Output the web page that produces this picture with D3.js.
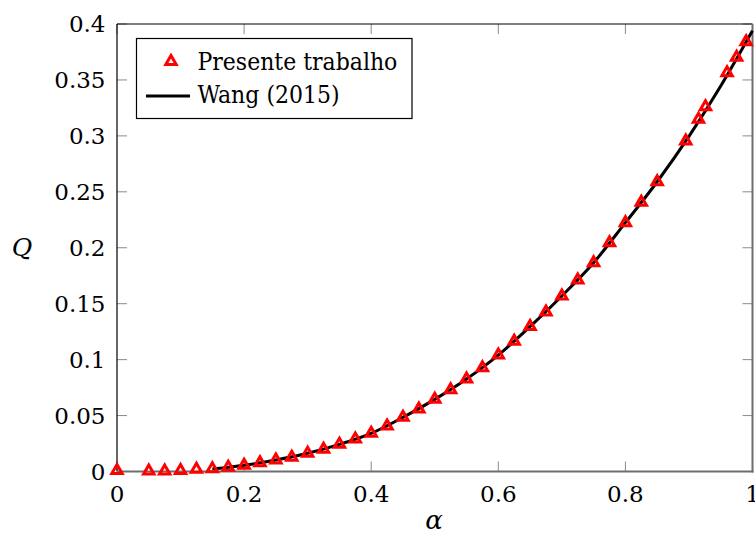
<!DOCTYPE html>
<html>
<head>
<meta charset="utf-8">
<script src="https://cdn.jsdelivr.net/npm/d3@7"></script>
<style>
  html, body { margin: 0; padding: 0; background: #fff; }
  svg { display: block; }
</style>
</head>
<body>
<svg id="chart" width="755" height="533"></svg>
<script>
// ---- Data ----
const presenteAlpha = [0, 0.05, 0.075, 0.1, 0.125, 0.15, 0.175, 0.2, 0.225, 0.25, 0.275, 0.3, 0.325, 0.35, 0.375, 0.4,
  0.425, 0.45, 0.475, 0.5, 0.525, 0.55, 0.575, 0.6, 0.625, 0.65, 0.675, 0.7, 0.725, 0.75, 0.775, 0.8, 0.825, 0.85,
  0.895, 0.915, 0.926, 0.96, 0.975, 0.99];
const presenteQ = [0.001, 0.0004, 0.0005, 0.001, 0.002, 0.0025, 0.0038, 0.0055, 0.0079, 0.0103, 0.0127, 0.0163, 0.0198, 0.0243, 0.029, 0.0341,
  0.0407, 0.0484, 0.0559, 0.0645, 0.0731, 0.0827, 0.0928, 0.1041, 0.1164, 0.1295, 0.1426, 0.1569, 0.1712, 0.1866, 0.2045, 0.2224, 0.2406, 0.259,
  0.2954, 0.3148, 0.3261, 0.3565, 0.3702, 0.3842];

const wangAlpha = [0.15, 0.2, 0.25, 0.3, 0.35, 0.4, 0.45, 0.5, 0.55, 0.6, 0.65, 0.7, 0.75, 0.8, 0.85, 0.9, 0.95, 1.0];
const wangQ = [0.0022, 0.0055, 0.0103, 0.0163, 0.0243, 0.0341, 0.0484, 0.0645, 0.0827, 0.1041, 0.1295, 0.1569, 0.1866, 0.2224, 0.259, 0.2995, 0.3445, 0.394];

const xTicks = [0, 0.2, 0.4, 0.6, 0.8, 1];
const xTickLabels = ["0", "0.2", "0.4", "0.6", "0.8", "1"];
const yTicks = [0, 0.05, 0.1, 0.15, 0.2, 0.25, 0.3, 0.35, 0.4];
const yTickLabels = ["0", "0.05", "0.1", "0.15", "0.2", "0.25", "0.3", "0.35", "0.4"];
const legendLabels = ["Presente trabalho", "Wang (2015)"];

// ---- Layout ----
const TICKFONT = "DejaVu Serif";
const LEGENDFONT = "'DejaVu Serif Condensed', 'DejaVu Serif', serif";
const svg = d3.select("#chart");
const x = d3.scaleLinear().domain([0, 1]).range([117, 752.5]);
const y = d3.scaleLinear().domain([0, 0.4]).range([471.5, 24]);
const tickLen = 10;
const fontSize = 23;

// ticks (inward, gray)
const gTicks = svg.append("g").attr("stroke", "#8a8a8a").attr("stroke-width", 1);
xTicks.forEach(t => {
  gTicks.append("line").attr("x1", x(t)).attr("x2", x(t)).attr("y1", y(0)).attr("y2", y(0) - tickLen);
  gTicks.append("line").attr("x1", x(t)).attr("x2", x(t)).attr("y1", y(0.4)).attr("y2", y(0.4) + tickLen);
});
yTicks.forEach(t => {
  gTicks.append("line").attr("x1", x(0)).attr("x2", x(0) + tickLen).attr("y1", y(t)).attr("y2", y(t));
  gTicks.append("line").attr("x1", x(1)).attr("x2", x(1) - tickLen).attr("y1", y(t)).attr("y2", y(t));
});

// frame
svg.append("line").attr("x1", x(0)).attr("x2", x(0)).attr("y1", y(0)).attr("y2", y(0.4))
  .attr("stroke", "#000").attr("stroke-width", 1.2);
svg.append("line").attr("x1", x(0)).attr("x2", x(1)).attr("y1", y(0.4)).attr("y2", y(0.4))
  .attr("stroke", "#000").attr("stroke-width", 1.2);
svg.append("line").attr("x1", x(0)).attr("x2", x(1) + 1).attr("y1", y(0)).attr("y2", y(0))
  .attr("stroke", "#6e6e6e").attr("stroke-width", 2);
svg.append("line").attr("x1", x(1)).attr("x2", x(1)).attr("y1", y(0) + 1).attr("y2", y(0.4))
  .attr("stroke", "#6e6e6e").attr("stroke-width", 2);

// tick labels
svg.append("g").selectAll("text").data(xTicks).join("text")
  .attr("x", d => x(d)).attr("y", 501.5)
  .attr("font-family", TICKFONT)
  .attr("text-anchor", "middle").attr("font-size", fontSize)
  .text((d, i) => xTickLabels[i]);
svg.append("g").selectAll("text").data(yTicks).join("text")
  .attr("x", 105.5).attr("y", d => y(d)).attr("dy", "0.36em")
  .attr("font-family", TICKFONT)
  .attr("text-anchor", "end").attr("font-size", fontSize)
  .text((d, i) => yTickLabels[i]);

// axis labels
svg.append("text").attr("x", 434).attr("y", 529).attr("text-anchor", "middle")
  .attr("font-family", TICKFONT)
  .attr("font-size", 26).attr("font-style", "italic").text("α");
svg.append("text").attr("x", 22).attr("y", 256).attr("text-anchor", "middle")
  .attr("font-family", TICKFONT)
  .attr("font-size", 25).attr("font-style", "italic").text("Q");

// Wang line
const wangData = wangAlpha.map((a, i) => [a, wangQ[i]]);
svg.append("path").datum(wangData)
  .attr("fill", "none").attr("stroke", "#000").attr("stroke-width", 3)
  .attr("d", d3.line().x(d => x(d[0])).y(d => y(d[1])).curve(d3.curveMonotoneX));

// triangle markers
const R = 6;
const triPath = `M0,${-R} L${R * Math.sqrt(3) / 2},${R / 2} L${-R * Math.sqrt(3) / 2},${R / 2} Z`;
const presData = presenteAlpha.map((a, i) => [a, presenteQ[i]]);
svg.append("g").selectAll("path").data(presData).join("path")
  .attr("transform", d => `translate(${x(d[0])},${y(d[1])})`)
  .attr("d", triPath)
  .attr("fill", "none").attr("stroke", "#ff0000").attr("stroke-width", 3)
  .attr("stroke-linejoin", "miter");

// legend
const lg = svg.append("g");
lg.append("rect").attr("x", 136.5).attr("y", 38.5).attr("width", 275.5).attr("height", 80)
  .attr("fill", "#fff").attr("stroke", "#000").attr("stroke-width", 1.2);
lg.append("path").attr("transform", "translate(171,61.5)").attr("d", triPath)
  .attr("fill", "#fff").attr("stroke", "#ff0000").attr("stroke-width", 3);
lg.append("line").attr("x1", 146).attr("x2", 190).attr("y1", 96).attr("y2", 96)
  .attr("stroke", "#000").attr("stroke-width", 3);
const t1 = lg.append("text").attr("x", 197.5).attr("y", 69.5).attr("font-family", LEGENDFONT).attr("font-size", 26).text(legendLabels[0]);
const t2 = lg.append("text").attr("x", 197.5).attr("y", 103).attr("font-family", LEGENDFONT).attr("font-size", 26).text(legendLabels[1]);
// fit legend text to the reference width of the first entry (~200px)
const w1 = t1.node().getComputedTextLength();
const fs = Math.min(28, 26 * 200 / w1);
t1.attr("font-size", fs);
t2.attr("font-size", fs);
</script>
</body>
</html>
